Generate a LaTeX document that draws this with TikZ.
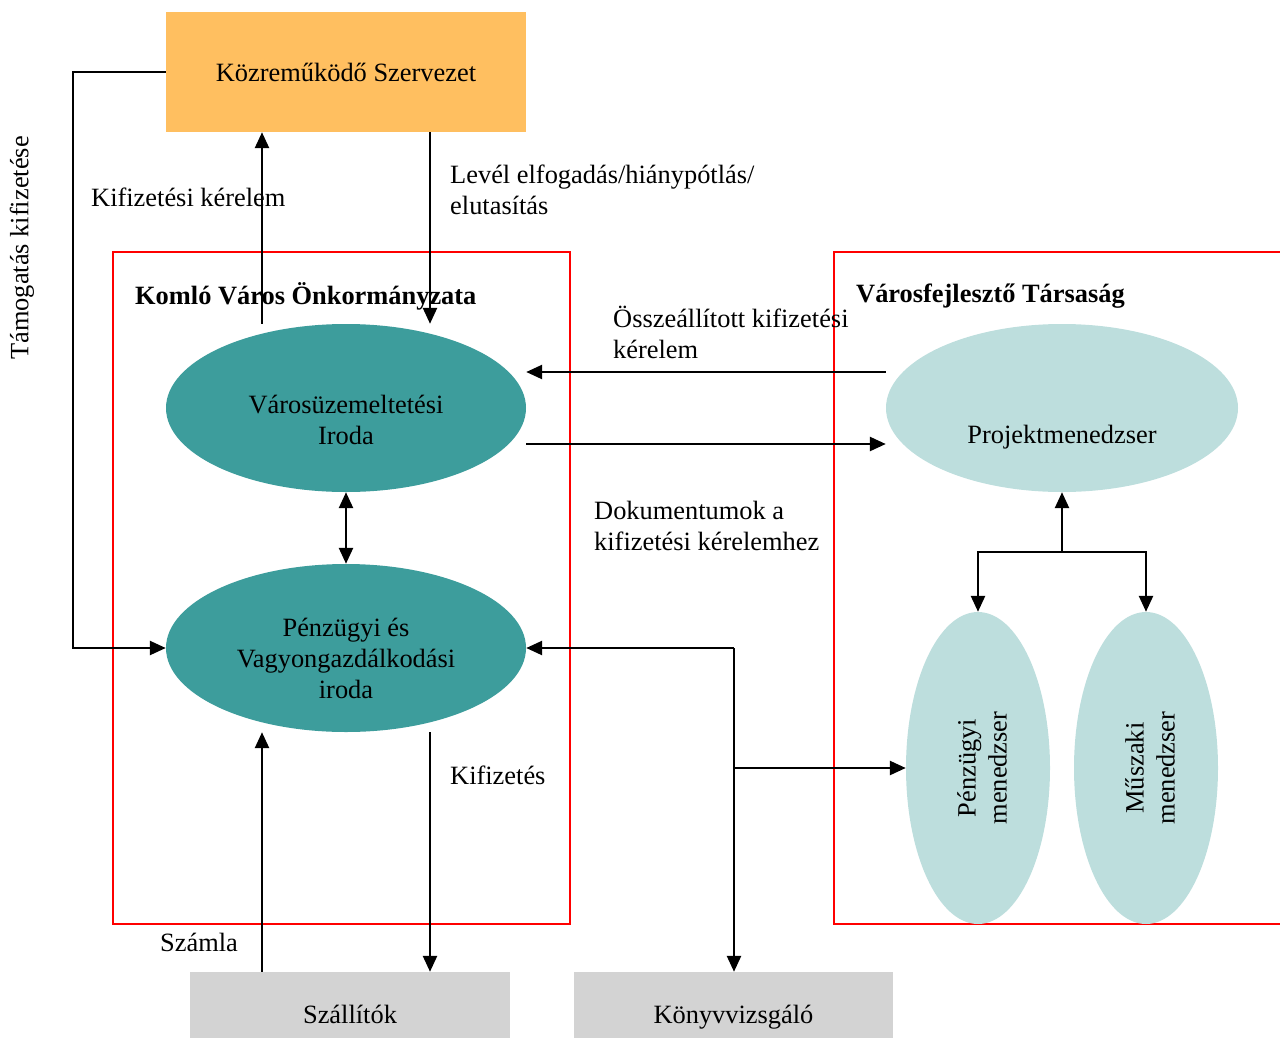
\documentclass[tikz,border=0pt]{standalone}
\usepackage{fontspec}
\setmainfont{Liberation Serif}
\usetikzlibrary{shapes.geometric,arrows.meta,positioning}

\definecolor{orangebox}{HTML}{FFBF60}
\definecolor{tealdark}{HTML}{3D9D9C}
\definecolor{teallight}{HTML}{BDDEDD}
\definecolor{greybox}{HTML}{D3D3D3}

\tikzset{
  txt/.style={font=\fontsize{26.4}{31}\selectfont, inner sep=0pt},
  lbl/.style={txt, align=left, anchor=west},
  office/.style={txt, align=center, ellipse, fill=tealdark, minimum width=360pt, minimum height=168pt},
  manager/.style={txt, align=center, ellipse, fill=teallight},
  party/.style={txt, align=center, fill=greybox, minimum width=320pt, minimum height=66pt, text height=40pt, text depth=4pt},
  frame/.style={draw=red, line width=1.5pt},
  arr/.style={line width=2.5pt, -{Triangle[length=16pt,width=14pt]}},
  arrboth/.style={line width=2.5pt, {Triangle[length=16pt,width=14pt]}-{Triangle[length=16pt,width=14pt]}}
}

\begin{document}
\begin{tikzpicture}[x=1pt,y=-1pt]
  \useasboundingbox (0,0) rectangle (1280,1039);

  % frames
  \draw[frame] (113,252) rectangle (570,924);
  \draw[frame] (834,252) rectangle (1300,924);
  \node[lbl, font=\fontsize{26.4}{31}\selectfont\bfseries] (komlo) at (135,296) {Komló Város Önkormányzata};
  \node[lbl, font=\fontsize{26.4}{31}\selectfont\bfseries] (tarsasag) at (856,296) {Városfejlesztő Társaság};

  % nodes
  \node[txt, fill=orangebox, minimum width=360pt, minimum height=120pt] (kozrem) at (346,72) {Közreműködő Szervezet};
  \node[office] (varosuz) at (346,408) {\mbox{}\\[11pt]Városüzemeltetési\\Iroda};
  \node[office] (penzugy) at (346,648) {\mbox{}\\[9pt]Pénzügyi és\\Vagyongazdálkodási\\iroda};
  \node[manager, minimum width=352pt, minimum height=168pt] (projekt) at (1062,408) {\mbox{}\\[45pt]Projektmenedzser};
  \node[manager, minimum width=144pt, minimum height=312pt] (penzmen) at (978,768) {};
  \node[txt, align=center, rotate=90] at ([xshift=4pt]penzmen) {Pénzügyi\\menedzser};
  \node[manager, minimum width=144pt, minimum height=312pt] (muszmen) at (1146,768) {};
  \node[txt, align=center, rotate=90] at ([xshift=4pt]muszmen) {Műszaki\\menedzser};
  \node[party] (szallit) at (350,1005) {Szállítók};
  \node[party, minimum width=319pt] (konyv) at (733.5,1005) {Könyvvizsgáló};

  % connectors
  \draw[arr] ([xshift=-84pt]varosuz.north) -- ([xshift=-84pt]varosuz.north |- kozrem.south);
  \draw[arr] ([xshift=84pt]kozrem.south) -- ([xshift=84pt]kozrem.south |- varosuz.north);
  \draw[arr] (kozrem.west) -- ++(-93,0) |- (penzugy.west);
  \draw[arr] ([yshift=36pt]projekt.west) -- ([yshift=36pt]varosuz.east);
  \draw[arr] ([yshift=-36pt]varosuz.east) -- ([yshift=-36pt]projekt.west);
  \draw[arrboth] (varosuz.south) -- (penzugy.north);

  \coordinate (hub) at (1062,552);
  \draw[arr] (hub) -- (projekt.south);
  \draw[arr] (hub) -| (penzmen.north);
  \draw[arr] (hub) -| (muszmen.north);

  \coordinate (split) at (734,648);
  \draw[arr] (split) -- (penzugy.east);
  \draw[arr] (split) -- (split |- konyv.north);
  \draw[arr] (split |- penzmen.west) -- (penzmen.west);

  \draw[arr] ([xshift=-84pt]penzugy.south |- szallit.north) -- ([xshift=-84pt]penzugy.south);
  \draw[arr] ([xshift=84pt]penzugy.south) -- ([xshift=84pt]penzugy.south |- szallit.north);

  % labels
  \node[lbl] (kerelem) at (91,197) {Kifizetési kérelem};
  \node[lbl] (level) at (450,189.5) {Levél elfogadás/hiánypótlás/\\elutasítás};
  \node[txt, rotate=90] (tamogatas) at (22,248) {Támogatás kifizetése};
  \node[lbl] (osszeall) at (613,332.5) {Összeállított kifizetési\\kérelem};
  \node[lbl] (dokum) at (594,525.5) {Dokumentumok a\\kifizetési kérelemhez};
  \node[lbl] (kifiz) at (450,775) {Kifizetés};
  \node[lbl] (szamla) at (160,942) {Számla};
\end{tikzpicture}
\end{document}
